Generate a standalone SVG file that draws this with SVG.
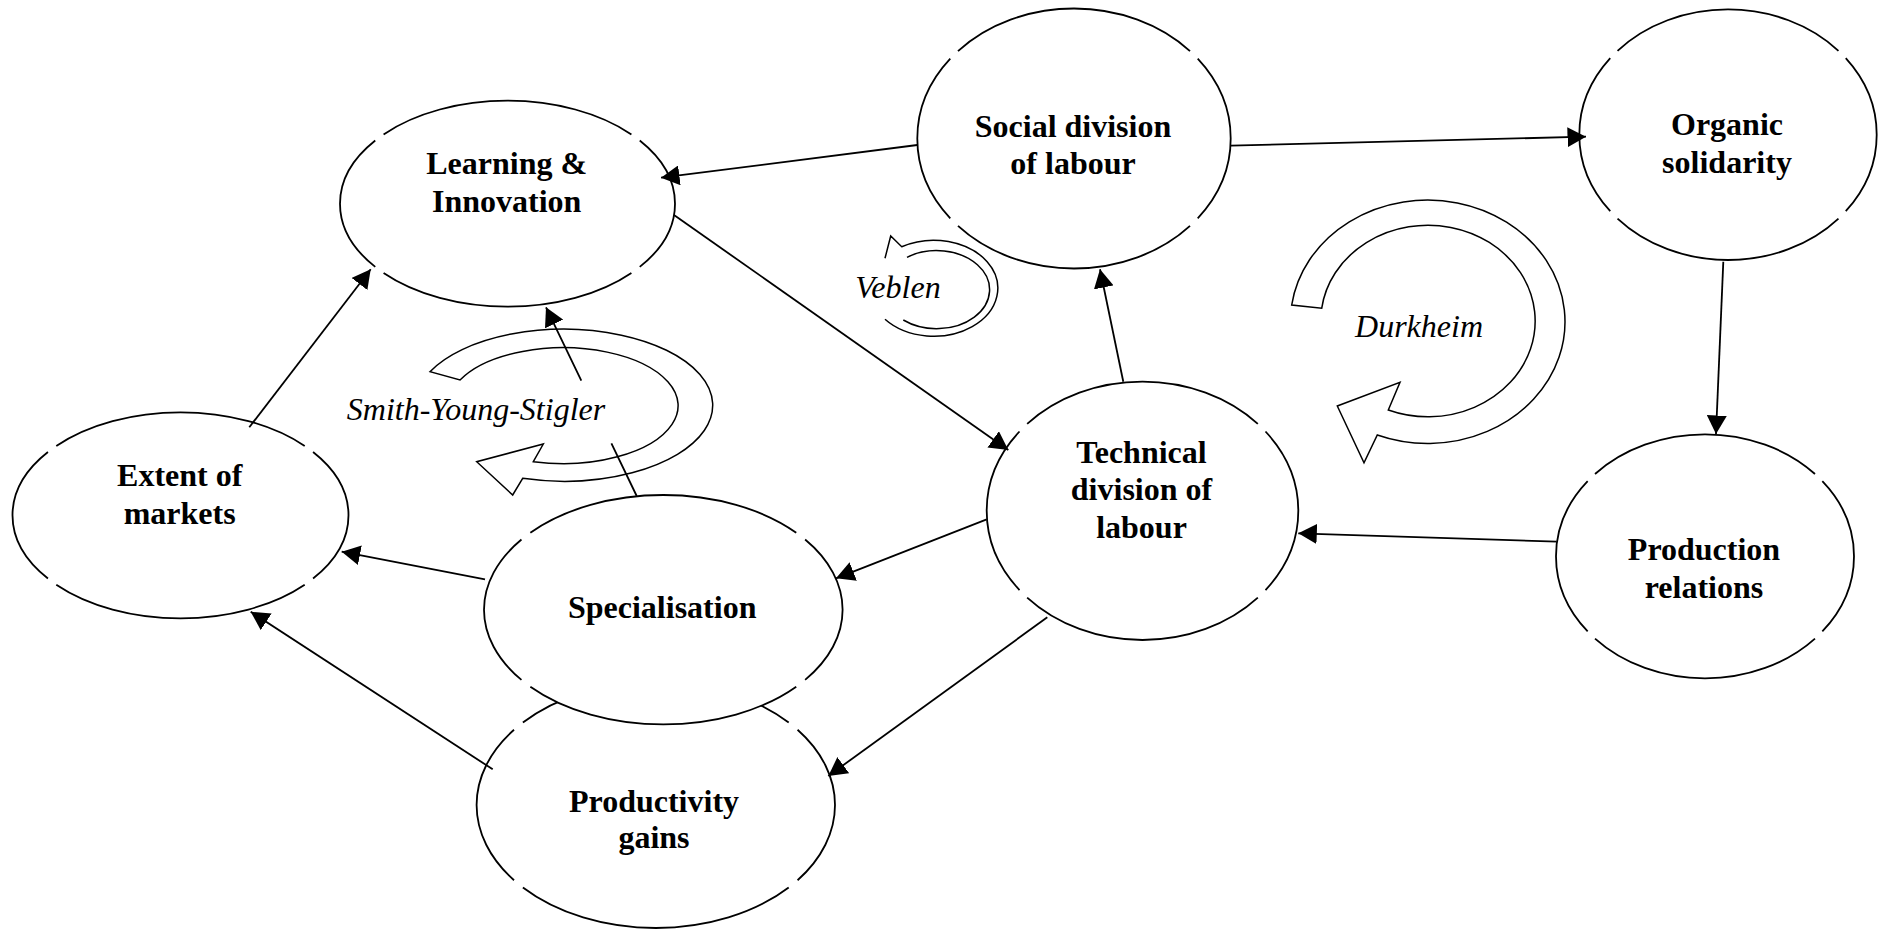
<svg xmlns="http://www.w3.org/2000/svg" width="1885" height="929" viewBox="0 0 1885 929">
<style>
.node ellipse{fill:#fff;stroke:#000;stroke-width:1.8}
.w1{stroke-dasharray:8.7 1.2 30.2 1.2 17.4 1.2 30.2 1.2 8.7}
.w2{stroke-dasharray:8.8 1.2 30 1.2 17.6 1.2 30 1.2 8.8}
.w3{stroke-dasharray:9.05 1.2 29.5 1.2 18.1 1.2 29.5 1.2 9.05}
.r1{stroke-dasharray:9.8 1.2 28 1.2 19.6 1.2 28 1.2 9.8}
.lbl{font-family:"Liberation Serif","Times New Roman",serif;font-size:32px;font-weight:bold;fill:#000;text-anchor:middle}
.it{font-family:"Liberation Serif","Times New Roman",serif;font-size:32px;font-style:italic;fill:#000;text-anchor:middle}
.ring{fill:#fff;stroke:#000;stroke-width:1.5;stroke-linejoin:miter}
.conn path,.conn line{stroke:#000;stroke-width:1.8;fill:none;marker-end:url(#ah)}
</style>
<defs>
<marker id="ah" markerUnits="userSpaceOnUse" markerWidth="19" markerHeight="20" refX="18.5" refY="10" orient="auto" viewBox="0 0 19 20">
<path d="M0,0 L18.5,10 L0,20 Z" fill="#000"/>
</marker>
</defs>
<rect width="1885" height="929" fill="#fff"/>

<g id="productivity" class="node">
<ellipse class="w3" pathLength="100" cx="655.8" cy="805" rx="179.2" ry="123"/>
<text class="lbl" x="654" y="811.7">Productivity</text>
<text class="lbl" x="654" y="848.3">gains</text>
</g>
<g id="specialisation" class="node">
<ellipse class="w2" pathLength="100" cx="663.3" cy="609.7" rx="179.3" ry="114.7"/>
<text class="lbl" x="662.2" y="618.3">Specialisation</text>
</g>
<g id="learning" class="node">
<ellipse class="w1" pathLength="100" cx="507.5" cy="203.7" rx="167.5" ry="103"/>
<text class="lbl" x="506.7" y="174">Learning &amp;</text>
<text class="lbl" x="506.7" y="212">Innovation</text>
</g>
<g id="extent" class="node">
<ellipse class="w1" pathLength="100" cx="180.5" cy="515.3" rx="168" ry="103"/>
<text class="lbl" x="179.7" y="486">Extent of</text>
<text class="lbl" x="179.7" y="524">markets</text>
</g>
<g id="social" class="node">
<ellipse class="r1" pathLength="100" cx="1074" cy="138.5" rx="156.7" ry="130"/>
<text class="lbl" x="1073" y="136.7">Social division</text>
<text class="lbl" x="1073" y="174">of labour</text>
</g>
<g id="organic" class="node">
<ellipse class="r1" pathLength="100" cx="1728" cy="134.7" rx="148.7" ry="125.3"/>
<text class="lbl" x="1727" y="135">Organic</text>
<text class="lbl" x="1727" y="173.3">solidarity</text>
</g>
<g id="production" class="node">
<ellipse class="r1" pathLength="100" cx="1705" cy="556.3" rx="149" ry="122"/>
<text class="lbl" x="1704" y="560">Production</text>
<text class="lbl" x="1704" y="598.3">relations</text>
</g>
<g id="technical" class="node">
<ellipse class="r1" pathLength="100" cx="1142.5" cy="510.8" rx="155.8" ry="129.2"/>
<text class="lbl" x="1141.5" y="462.7">Technical</text>
<text class="lbl" x="1141.5" y="500">division of</text>
<text class="lbl" x="1141.5" y="538.3">labour</text>
</g>

<g id="loop-smith">
<path class="ring" d="M430,371.7 A149,76 0 1,1 522.7,478.3 L512.7,495 L476.7,461.7 L543.3,444 L533.3,461.7 A115,58 0 1,0 460,380 Z"/>
<text class="it" x="476" y="420">Smith-Young-Stigler</text>
</g>
<g id="loop-durkheim">
<path class="ring" d="M1291.7,305 A137.3,121.7 0 1,1 1377.3,435 L1364,462.7 L1337.3,406 L1400,382.3 L1388.3,410 A107.2,95.8 0 1,0 1321.7,308.3 Z"/>
<text class="it" x="1419" y="336.7">Durkheim</text>
</g>
<g id="loop-veblen">
<path class="ring" d="M907,257.3 A53,39 0 1,1 903.3,320 M885,319.3 A64,48 0 1,0 901.7,246.7 L890.7,236 L885,258.3"/>
<text class="it" x="898" y="298.3">Veblen</text>
</g>

<g id="connectors" class="conn">
<line x1="917.3" y1="145" x2="661" y2="177.7"/>
<line x1="1230.7" y1="145.7" x2="1586" y2="136.7"/>
<line x1="674" y1="215" x2="1008.3" y2="450"/>
<line x1="1123.3" y1="381.7" x2="1100" y2="269.3"/>
<line x1="1723.3" y1="261.7" x2="1716" y2="434"/>
<line x1="1556.7" y1="541.7" x2="1298.3" y2="533.3"/>
<line x1="986.7" y1="519.3" x2="836" y2="578.3"/>
<line x1="1047.3" y1="617.3" x2="828.3" y2="776"/>
<line x1="485" y1="579.3" x2="341.7" y2="551.7"/>
<line x1="492.7" y1="769.3" x2="250.7" y2="611.7"/>
<line x1="249.3" y1="427.3" x2="370.7" y2="269.3"/>
<path d="M636.7,496 L611.4,443.3 M581.3,380.7 L546,307.3"/>
</g>
</svg>
